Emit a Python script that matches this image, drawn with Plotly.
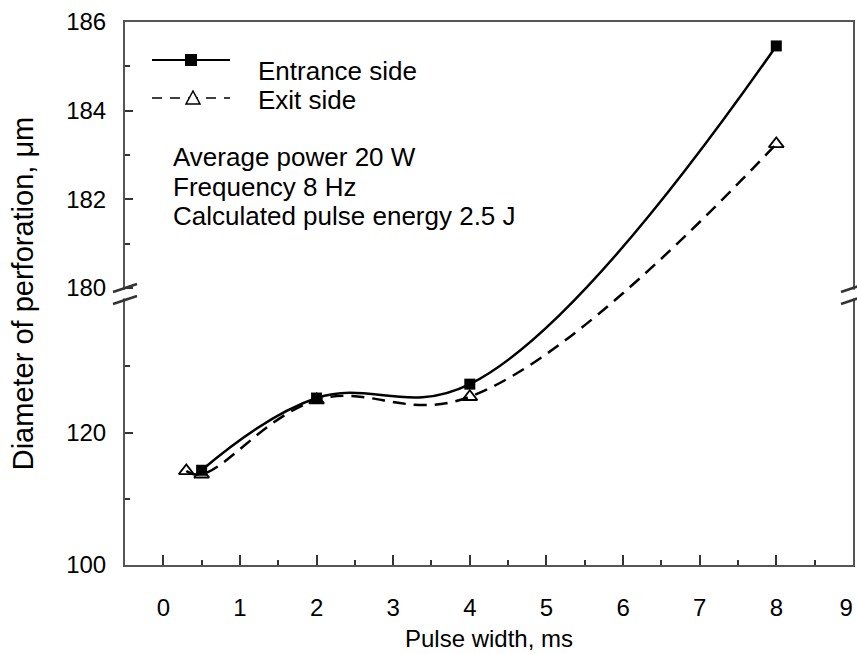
import plotly.graph_objects as go

# ---- data ----
entrance_x = [0.5, 2, 4, 8]
entrance_y = [114.3, 125.2, 127.3, 185.46]
exit_x = [0.3, 0.5, 2, 4, 8]
exit_y = [114.2, 113.7, 124.9, 125.4, 183.25]

x_ticks = [0, 1, 2, 3, 4, 5, 6, 7, 8, 9]
x_ticktext = ["0", "1", "2", "3", "4", "5", "6", "7", "8", "9\u00a0\u00a0"]
y_major = [100, 120, 180, 182, 184, 186]
y_minor = [110, 130, 181, 183, 185]

# ---- broken-axis transform (lower 100-140, upper 180-186) ----
LOW_MIN, LOW_MAX, UP_MIN, UP_MAX = 100, 140, 180, 186
LOW_SPAN, GAP, UP_SPAN = 265.0, 12.0, 266.0


def T(v):
    if v <= LOW_MAX:
        return (v - LOW_MIN) / (LOW_MAX - LOW_MIN) * LOW_SPAN
    return LOW_SPAN + GAP + (v - UP_MIN) / (UP_MAX - UP_MIN) * UP_SPAN


TOTAL = LOW_SPAN + GAP + UP_SPAN

W, H = 857, 654
ML, MR, MT, MB = 125, 4, 22, 89
PW, PH = W - ML - MR, H - MT - MB


def px(xp):
    return (xp - ML) / PW


def py(yp):
    return (H - MB - yp) / PH


FONT = "Liberation Sans, Arial, sans-serif"
SMOOTH = 1.15

fig = go.Figure()
fig.add_trace(go.Scatter(
    x=entrance_x, y=[T(v) for v in entrance_y], mode="lines+markers",
    line=dict(color="black", width=2.5, shape="spline", smoothing=SMOOTH),
    marker=dict(symbol="square", size=11, color="black"),
    name="Entrance side", showlegend=False, cliponaxis=False))
fig.add_trace(go.Scatter(
    x=exit_x, y=[T(v) for v in exit_y], mode="lines+markers",
    line=dict(color="black", width=2.5, shape="spline", smoothing=SMOOTH, dash="13px,8px"),
    marker=dict(symbol="triangle-up-open", size=13, color="black", line=dict(width=1.8)),
    name="Exit side", showlegend=False, cliponaxis=False))

axis_color = "#555555"
fig.update_xaxes(
    range=[-0.5, 9.001], tickvals=x_ticks, ticktext=x_ticktext, ticks="inside", ticklen=10, tickwidth=2,
    tickcolor="#333", showline=True, linecolor=axis_color, linewidth=2, mirror=True,
    showgrid=False, zeroline=False, tickfont=dict(size=24, color="black", family=FONT),
    ticklabelstandoff=20, ticklabeloverflow="allow", automargin=False,
    minor=dict(tickvals=[v + 0.5 for v in x_ticks[:-1]], ticks="inside", ticklen=5,
               tickwidth=2, tickcolor="#333", showgrid=False),
    title=dict(text="Pulse width, ms", font=dict(size=24, color="black", family=FONT), standoff=10))
fig.update_yaxes(
    range=[0, TOTAL], tickvals=[T(v) for v in y_major], ticktext=[str(v) for v in y_major],
    ticks="inside", ticklen=8, tickwidth=2, tickcolor="#333",
    showline=True, linecolor=axis_color, linewidth=2, mirror=True,
    showgrid=False, zeroline=False, tickfont=dict(size=24, color="black", family=FONT),
    ticklabelstandoff=12, ticklabeloverflow="allow", automargin=False,
    minor=dict(tickvals=[T(v) for v in y_minor], ticks="inside", ticklen=5, tickwidth=2,
               tickcolor="#333", showgrid=False),
    title=dict(text="Diameter of perforation, μm", font=dict(size=29, color="black", family=FONT), standoff=24))

shapes = []
# axis break marks (left and right)
gap_lo = LOW_SPAN / TOTAL
gap_hi = (LOW_SPAN + GAP) / TOTAL
for xa in (0, 1):
    shapes.append(dict(type="rect", xref="paper", yref="paper", x0=xa - 0.004, x1=xa + 0.004,
                       y0=gap_lo + 0.003, y1=gap_hi - 0.003, fillcolor="white", line=dict(width=0),
                       layer="above"))
    for yc in (gap_lo, gap_hi):
        shapes.append(dict(type="line", xref="paper", yref="paper",
                           x0=xa - 12 / PW, x1=xa + 12 / PW, y0=yc - 4 / PH, y1=yc + 4 / PH,
                           line=dict(color="#333", width=2.5), layer="above"))

# legend samples
ly1, ly2 = py(60), py(98)
shapes.append(dict(type="line", xref="paper", yref="paper", x0=px(152), x1=px(230), y0=ly1, y1=ly1,
                   line=dict(color="black", width=2)))
shapes.append(dict(type="rect", xref="paper", yref="paper", x0=px(185), x1=px(197),
                   y0=ly1 - 6 / PH, y1=ly1 + 6 / PH, fillcolor="black", line=dict(width=0)))
shapes.append(dict(type="line", xref="paper", yref="paper", x0=px(152), x1=px(230), y0=ly2, y1=ly2,
                   line=dict(color="black", width=1.5, dash="10px,8px")))
tx, ty = px(193), ly2
tri = "M {a},{b} L {c},{b} L {d},{e} Z".format(
    a=tx - 7 / PW, b=ty - 6 / PH, c=tx + 7 / PW, d=tx, e=ty + 7 / PH)
shapes.append(dict(type="path", xref="paper", yref="paper", path=tri, fillcolor="white",
                   line=dict(color="black", width=1.5)))

annotations = []
for text, yp in [("Entrance side", 71), ("Exit side", 100)]:
    annotations.append(dict(text=text, x=px(256), y=py(yp), xref="paper", yref="paper",
                            xanchor="left", yanchor="middle", showarrow=False,
                            font=dict(size=26, color="black", family=FONT)))
for text, yp in [("Average power 20 W", 157), ("Frequency 8 Hz", 187),
                 ("Calculated pulse energy 2.5 J", 216)]:
    annotations.append(dict(text=text, x=px(171), y=py(yp), xref="paper", yref="paper",
                            xanchor="left", yanchor="middle", showarrow=False,
                            font=dict(size=26, color="black", family=FONT)))

fig.update_layout(
    width=W, height=H, margin=dict(l=ML, r=MR, t=MT, b=MB),
    paper_bgcolor="white", plot_bgcolor="white", showlegend=False,
    font=dict(family=FONT, color="black"), shapes=shapes, annotations=annotations)

fig.write_html("out.html")
